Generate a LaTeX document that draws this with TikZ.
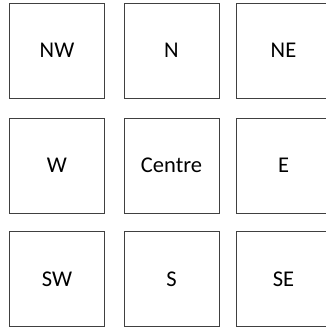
\documentclass[tikz,border=0pt]{standalone}
\usepackage{fontspec}
\setmainfont{Carlito}
\begin{document}
\begin{tikzpicture}[x=1pt, y=-1pt,
  cell/.style={draw=black!75, line width=0.9pt, minimum width=95pt, minimum height=95pt, inner sep=0pt, font=\fontsize{22.5}{27}\selectfont}]
\useasboundingbox (0,0) rectangle (326,327);
\node[cell] (nw) at (57,50.5) {NW};
\node[cell] (n) at (171.5,50.5) {N};
\node[cell] (ne) at (283.5,50.5) {NE};
\node[cell] (w) at (57,165.5) {W};
\node[cell] (c) at (171.5,165.5) {Centre};
\node[cell] (e) at (283.5,165.5) {E};
\node[cell] (sw) at (57,279) {SW};
\node[cell] (s) at (171.5,279) {S};
\node[cell] (se) at (283.5,279) {SE};
\end{tikzpicture}
\end{document}
